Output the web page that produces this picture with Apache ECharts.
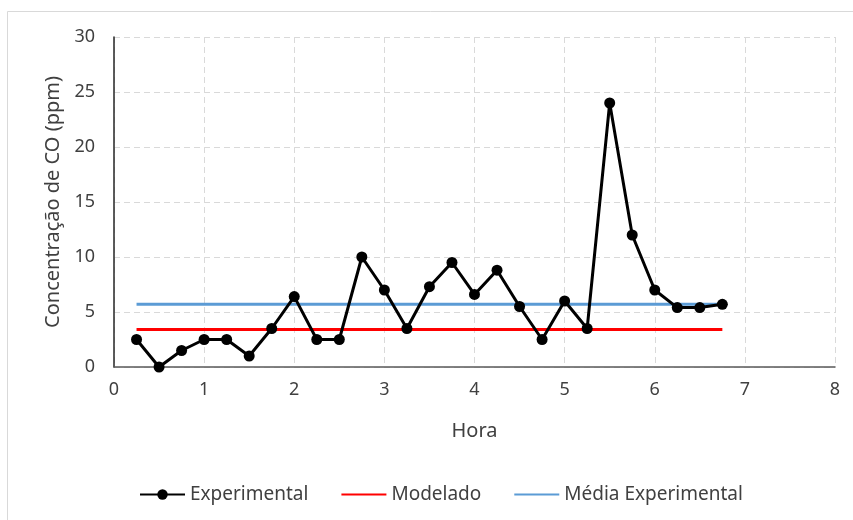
<!DOCTYPE html>
<html>
<head>
<meta charset="utf-8">
<script src="https://cdn.jsdelivr.net/npm/echarts@6/dist/echarts.min.js"></script>
<style>
  html, body { margin: 0; padding: 0; background: #fff; }
  #chart { width: 853px; height: 520px; }
</style>
</head>
<body>
<div id="chart"></div>
<script>
// Hourly CO concentration readings (ppm)
const horas = [0.25, 0.5, 0.75, 1, 1.25, 1.5, 1.75, 2, 2.25, 2.5, 2.75, 3, 3.25,
  3.5, 3.75, 4, 4.25, 4.5, 4.75, 5, 5.25, 5.5, 5.75, 6, 6.25, 6.5, 6.75];
const experimental = [2.5, 0, 1.5, 2.5, 2.5, 1, 3.5, 6.4, 2.5, 2.5, 10, 7, 3.5,
  7.3, 9.5, 6.6, 8.8, 5.5, 2.5, 6, 3.5, 24, 12, 7, 5.4, 5.4, 5.7];
const modeladoHoras = [0.25, 6.75];
const modelado = [3.4, 3.4];
const mediaHoras = [0.25, 6.75];
const mediaExperimental = [5.7, 5.7];
const xTicks = [0, 1, 2, 3, 4, 5, 6, 7, 8];
const yTicks = [0, 5, 10, 15, 20, 25, 30];

const pairs = (xs, ys) => xs.map((x, i) => [x, ys[i]]);
const font = '"Noto Sans", "Open Sans", sans-serif';
const textColor = '#404040';

const chart = echarts.init(document.getElementById('chart'));
chart.setOption({
  animation: false,
  backgroundColor: '#fff',
  graphic: [{
    type: 'rect',
    shape: { x: 7.5, y: 11.5, width: 860, height: 520 },
    style: { fill: 'none', stroke: '#d9d9d9', lineWidth: 1 },
    silent: true
  }],
  grid: { left: 114, right: 18, top: 37, bottom: 153 },
  xAxis: {
    type: 'value',
    min: xTicks[0], max: xTicks[xTicks.length - 1], interval: 1,
    name: 'Hora', nameLocation: 'middle', nameGap: 54,
    nameTextStyle: { fontFamily: font, fontSize: 20, color: textColor },
    axisLine: { lineStyle: { color: '#595959', width: 1.5 } },
    axisTick: { show: false },
    axisLabel: { fontFamily: font, fontSize: 18, color: textColor, margin: 14 },
    splitLine: { show: true, lineStyle: { color: '#d9d9d9', type: [6, 4], width: 1 } }
  },
  yAxis: {
    type: 'value',
    min: yTicks[0], max: yTicks[yTicks.length - 1], interval: 5,
    name: 'Concentração de CO (ppm)', nameLocation: 'middle', nameGap: 51,
    nameRotate: 90,
    nameTextStyle: { fontFamily: font, fontSize: 20, color: textColor },
    axisLine: { show: true, lineStyle: { color: '#262626', width: 1.5 } },
    axisTick: { show: false },
    axisLabel: { fontFamily: font, fontSize: 18, color: textColor, margin: 19 },
    splitLine: { show: true, lineStyle: { color: '#d9d9d9', type: [6, 4], width: 1 } }
  },
  legend: {
    left: 134, top: 480,
    itemWidth: 45, itemHeight: 13, itemGap: 32,
    textStyle: { fontFamily: font, fontSize: 19, color: textColor, padding: [0, 0, 0, 0] },
    data: [
      { name: 'Experimental' },
      { name: 'Modelado', itemStyle: { opacity: 0 } },
      { name: 'Média Experimental', itemStyle: { opacity: 0 } }
    ]
  },
  series: [
    {
      name: 'Modelado', type: 'line',
      data: pairs(modeladoHoras, modelado),
      showSymbol: false, symbol: 'none',
      lineStyle: { color: '#ff0000', width: 3 },
      itemStyle: { color: '#ff0000' }, z: 2
    },
    {
      name: 'Média Experimental', type: 'line',
      data: pairs(mediaHoras, mediaExperimental),
      showSymbol: false, symbol: 'none',
      lineStyle: { color: '#5b9bd5', width: 3 },
      itemStyle: { color: '#5b9bd5' }, z: 3
    },
    {
      name: 'Experimental', type: 'line',
      data: pairs(horas, experimental),
      symbol: 'circle', symbolSize: 11,
      lineStyle: { color: '#000', width: 3 },
      itemStyle: { color: '#000' }, z: 4
    }
  ]
});
</script>
</body>
</html>
